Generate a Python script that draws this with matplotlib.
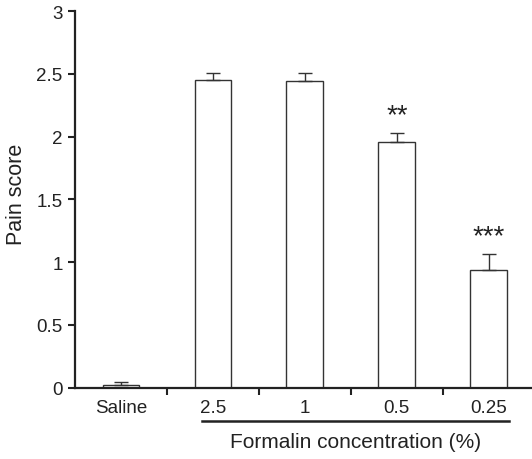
import numpy as np
import matplotlib
matplotlib.use('Agg')
import matplotlib.pyplot as plt

plt.rcParams['font.family'] = ['Liberation Sans', 'DejaVu Sans']

labels = ['Saline', '2.5', '1', '0.5', '0.25']
scores = [0.02, 2.45, 2.44, 1.96, 0.94]
errors = [0.02, 0.06, 0.07, 0.065, 0.125]
stars = ['', '', '', '**', '***']

fig = plt.figure(figsize=(5.32, 4.6), dpi=100)
ax = fig.add_axes([0.141, 0.1554, 0.859, 0.8185])

x = np.arange(len(labels))
ax.bar(x, scores, width=0.4, color='white', edgecolor='#333333', linewidth=1.0, zorder=2)
ax.errorbar(x, scores, yerr=[np.zeros(len(x)), errors], fmt='none', ecolor='#333333',
            elinewidth=1.0, capsize=5, capthick=1.0, zorder=3)

for xi, s, e, st in zip(x, scores, errors, stars):
    if st:
        ax.text(xi, s + e + 0.04, st, ha='center', va='bottom', fontsize=20, color='#222222')

ax.set_xlim(-0.5, 4.47)
ax.set_ylim(0, 3)
ax.set_yticks([0, 0.5, 1, 1.5, 2, 2.5, 3])
ax.set_yticklabels(['0', '0.5', '1', '1.5', '2', '2.5', '3'])
ax.set_xticks([0.5, 1.5, 2.5, 3.5])
ax.set_xticklabels([])
ax.set_xticks(x, minor=True)
ax.set_xticklabels(labels, minor=True)
ax.tick_params(axis='x', which='minor', length=0, pad=8, labelsize=13.5, labelcolor='#222222')
ax.tick_params(axis='x', which='major', direction='out', length=5, width=1.5, color='#222222')
ax.tick_params(axis='y', direction='out', length=5, width=1.5, labelsize=13.5,
               color='#222222', labelcolor='#222222', pad=4)

for side in ['top', 'right']:
    ax.spines[side].set_visible(False)
for side in ['left', 'bottom']:
    ax.spines[side].set_linewidth(1.6)
    ax.spines[side].set_color('#222222')

ax.set_ylabel('Pain score', fontsize=15.5, color='#222222', va='center')
ax.yaxis.set_label_coords(-0.127, 0.515)

# bracket under the formalin groups
ax.plot([0.88, 4.22], [-0.265, -0.265], color='#222222', linewidth=1.8,
        clip_on=False, transform=ax.transData)
ax.text(2.55, -0.355, 'Formalin concentration (%)', ha='center', va='top',
        fontsize=15, color='#222222')

fig.savefig('out.png', dpi=100)
